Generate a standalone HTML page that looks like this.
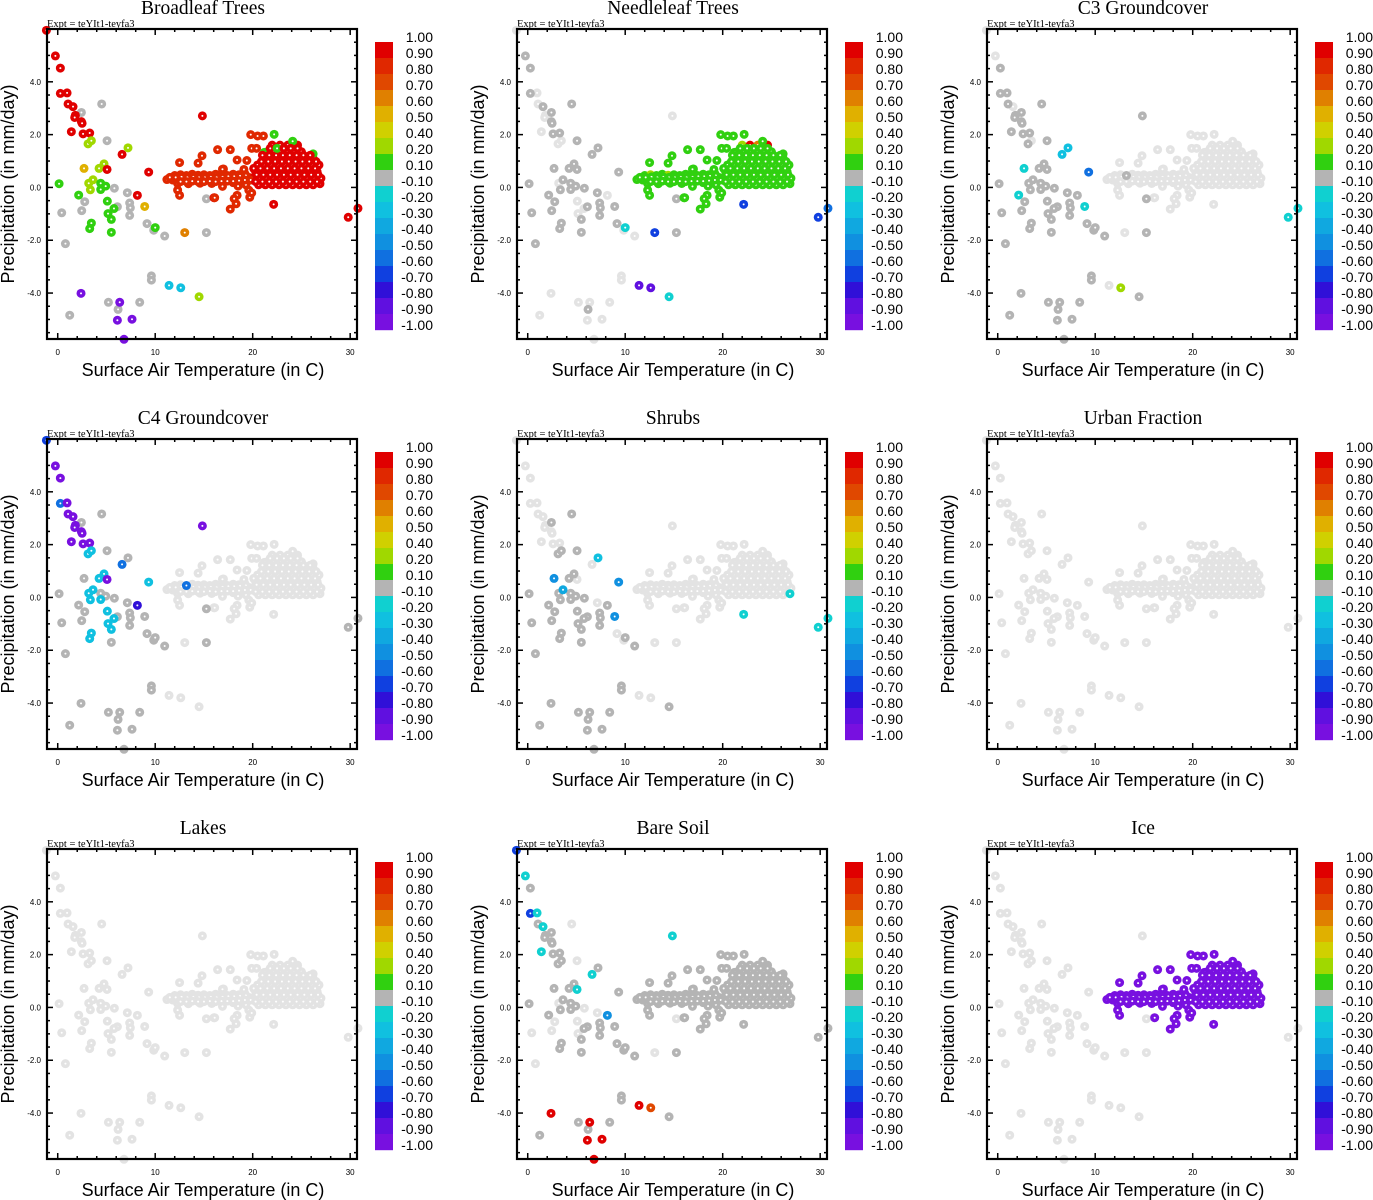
<!DOCTYPE html>
<html><head><meta charset="utf-8"><style>
html,body{margin:0;padding:0;background:#fff;}
svg{display:block;}
</style></head><body>
<svg id="chart" width="1373" height="1200" xmlns="http://www.w3.org/2000/svg"></svg>
<script>
// ---- data ----
const panelTitles = ["Broadleaf Trees","Needleleaf Trees","C3 Groundcover","C4 Groundcover","Shrubs","Urban Fraction","Lakes","Bare Soil","Ice"];
const xTicks = [0,10,20,30];
const yTicks = [4,2,0,-2,-4];
const yTickLabels = ["4.0","2.0","0.0","-2.0","-4.0"];
const cbarLabels = ["1.00","0.90","0.80","0.70","0.60","0.50","0.40","0.20","0.10","-0.10","-0.20","-0.30","-0.40","-0.50","-0.60","-0.70","-0.80","-0.90","-1.00"];
const cbarColors = ["#e00000","#e02800","#e04800","#e08000","#e0b000","#d0d000","#a0d800","#30d010","#b4b4b4","#10d0d0","#10c0e0","#10a8e0","#1090e0","#1070e0","#1040e0","#3010d8","#6010e0","#7810e0"];
const codeLetters = "ABCDEFGHIJKLMNOPQR";
const codeValues = [0.95,0.85,0.75,0.65,0.55,0.45,0.3,0.15,0,-0.15,-0.25,-0.35,-0.45,-0.55,-0.65,-0.75,-0.85,-0.95];

// scattered (cold/wet) points
const tempA = [-1.16,-0.24,0.27,0.27,0.96,1.06,1.57,1.81,1.74,2.43,2.43,2.5,4.51,1.4,2.6,3.28,3.11,3.45,5.06,7.21,6.6,2.7,4.24,4.75,5.06,0.14,3.18,3.62,4.41,4.92,3.35,4.41,5.81,2.15,7.14,8.17,9.33,2.77,5.09,7.38,6.12,7.45,8.92,0.41,2.46,5.77,5.16,5.5,7.38,3.45,3.28,5.5,9.16,9.85,10.0,10.97,13.03,15.25,0.79,9.61,9.61,11.42,12.62,14.5,2.39,5.2,6.36,8.41,6.19,1.23,6.12,7.62,6.8,14.84,15.25,16.03,29.8,30.8];
const precA = [5.95,4.98,4.52,3.56,3.58,3.16,3.06,2.73,2.65,2.84,2.49,2.43,3.16,2.11,2.03,2.06,1.65,1.77,1.77,1.5,1.25,0.72,0.72,0.89,0.68,0.14,0.16,0.29,0.16,0.05,-0.09,-0.08,-0.03,-0.29,-0.2,-0.3,0.58,-0.54,-0.52,-0.59,-0.73,-0.77,-0.72,-0.96,-0.88,-0.8,-0.99,-1.21,-1.06,-1.35,-1.56,-1.7,-1.37,-1.62,-1.52,-1.84,-1.71,-1.71,-2.13,-3.35,-3.51,-3.71,-3.8,-4.14,-4.01,-4.35,-4.35,-4.35,-4.62,-4.84,-5.03,-4.99,-5.75,2.71,-0.43,-0.39,-1.13,-0.79];
// warm cluster points
const tempB = [11.2,11.8,12.4,13,13.6,14.2,14.8,15.4,16,16.6,17.2,17.8,18.4,19,19.6,
 12,12.6,13.2,13.8,14.4,15,15.6,16.2,16.8,17.4,18,18.6,19.2,
 12.3,13.4,14.6,15.8,16.9,18,19.2,
 12.3,12.5,17.0,18.5,19.3,19.6,18.4,
 20.6,21.3,22,22.7,23.4,24.1,24.8,25.5,26.2,
 20,20.7,21.4,22.1,22.8,23.5,24.2,24.9,25.6,26.3,27,
 20.3,21,21.7,22.4,23.1,23.8,24.5,25.2,25.9,26.6,
 20.5,21.2,21.9,22.6,23.3,24,24.7,25.4,26.1,26.8,
 21.3,22,22.7,23.4,24.1,24.8,25.5,26.2,
 21.5,22.2,22.9,23.6,24.3,25,
 22,22.8,23.6,24.6,
 12.5,14.4,14.8,16.4,17.7,18.4,19.8,20.5,21.1,22.2,24.1,19.9,20.4,19.4,19.1,16.9,16.1,16.9,18.1,18.3,17.7,19.7,19.9,26.9,26.2,21.2,22.15,
 11.5,12.1,12.7,13.3,13.9,14.5,15.1,15.7,16.3,16.9,17.5,18.1,18.7,19.3,
 12.6,13.2,13.8,14.4,15,15.6,16.2,16.8,17.4,18,18.6,19.2,19.8,
 20.3,21,21.7,22.4,23.1,23.8,24.5,25.2,25.9,26.6,
 20.4,21.1,21.8,22.5,23.2,23.9,24.6,25.3,26,26.7,
 20.1,20.8,21.5,22.2,22.9,23.6,24.3,25,25.7,26.4,
 20.9,21.6,22.3,23,23.7,24.4,25.1,25.8,26.5,
 21,21.7,22.4,23.1,23.8,24.5,25.2,25.9,
 21.8,22.5,23.2,23.9,24.6];
const precB = [0.3,0.28,0.32,0.3,0.33,0.3,0.28,0.32,0.3,0.3,0.32,0.35,0.33,0.36,0.38,
 0.45,0.48,0.45,0.5,0.46,0.48,0.45,0.5,0.47,0.45,0.5,0.48,0.52,
 0.15,0.14,0.16,0.15,0.14,0.18,0.2,
 -0.1,-0.3,0.7,0.05,0.1,-0.1,-0.3,
 0.1,0.1,0.1,0.1,0.1,0.1,0.1,0.1,0.1,
 0.35,0.35,0.35,0.35,0.35,0.35,0.35,0.35,0.35,0.35,0.35,
 0.6,0.6,0.6,0.6,0.6,0.6,0.6,0.6,0.6,0.6,
 0.85,0.85,0.85,0.85,0.85,0.85,0.85,0.85,0.85,0.85,
 1.1,1.1,1.1,1.1,1.1,1.1,1.1,1.1,
 1.35,1.35,1.35,1.35,1.35,1.35,
 1.6,1.6,1.6,1.6,
 0.94,0.92,1.2,1.43,1.43,1.04,2.0,1.95,1.95,2.01,1.75,1.48,1.48,1.02,0.68,0.69,-0.39,0.04,-0.43,-0.62,-0.82,-0.37,-0.21,0.14,1.27,1.33,-0.64,
 0.38,0.38,0.4,0.38,0.4,0.38,0.38,0.4,0.38,0.4,0.42,0.42,0.44,0.45,
 0.22,0.22,0.24,0.22,0.22,0.24,0.22,0.24,0.24,0.24,0.26,0.28,0.28,
 0.22,0.22,0.22,0.22,0.22,0.22,0.22,0.22,0.22,0.22,
 0.48,0.48,0.48,0.48,0.48,0.48,0.48,0.48,0.48,0.48,
 0.72,0.72,0.72,0.72,0.72,0.72,0.72,0.72,0.72,0.72,
 0.98,0.98,0.98,0.98,0.98,0.98,0.98,0.98,0.98,
 1.22,1.22,1.22,1.22,1.22,1.22,1.22,1.22,
 1.48,1.48,1.48,1.48,1.48];

// per-panel value codes (letter = colour-bar class, '.' = no data)
const codesA = [
 ["AAAAAAAAAI","AAIAAAGGIG","AEGGAHGGHH","GHIHIAAIHI","IIEIIHHHIH","HHIIHIDIII","IKKGRIRIII","RRRAIAAA"],
 [".III..I..I","III.II..II","IIIIII.III","IIIII.II.I","IIIII..III","III.J.OII.",".QQJ....I.","....IHON"],
 ["..IIII.III","IIIIIII.IK","KJIIIIIIII","IIIJIINIII","IIJIIIIIII","IIIIII.III","I.GIIIIIII","IIIII.JJ"],
 ["ORRNRRRRRI","RRIRRRKKII","NIKKRIKKII","KKIIIPKIKI","IIIIIKKKIK","KIIIII.III","I...IIIIII","IIIRI.II"],
 [".........I","..I...IIIK",".MII.IILII","IIII.IMIII","IIMIIIIIII","II..II..II","I..IIIIIII","III...JJ"],
 null, null,
 ["OJIOJIJIII","II.JIIII.I","JIIIJI.III","II.I.MI..I","III..I.III","IIIIII.I.I","IACIAIAIII","AAAJ.III"],
 null
];
const codesB = [
 ["BBBBBBBBBB","BBBBBBBBBB","BBBBBBBBBB","BBBBBBBBBB","BB","AAAAAAAAAA","AAAAAAAAAA","AAAAAAAAAA","AAAAAAAAAA","AAAAAAAAAA","AAAAAAAA","BBBBBBBBBHH","BBBBBBBBBBBB","AHHA",
  "BBBBBBBBBBBBBB","BBBBBBBBBBBBB","AAAAAAAAAA","AAAAAAAAAA","AAAAAAAAAA","AAAAAAAAA","AAAAAAAA","AHAAA"],
 ["HHHHHHHHHHHHHHH","HGHHGHHHHHHHH","HHHHHHH","HHHHHHH","HHHHHHHHHHHHHHHHHHHHHHHHHHHHHHHHHHHHHHHHHHHHHHHHHHHHHH","GADA","HHHHHHHHHHHHHHHHHHHHHHHHHHO",
  "HHHHHHHHHHHHHH","HHHHHHHHHHHHH","HHHHHHHHHH","HHHHHHHHHH","HHHHHHHHHH","HHHHHHHHH","HHHHHHHH","HHHHH"],
 ["...............","..I..........",".......",".......","......................................................","....","..........................."],
 ["...............","..N..........",".......",".......","......................................................","....","..........................."],
 ["...............",".............",".......",".......","......................................................","....",".......................J..J"],
 null, null,
 ["IIIIIIIIIIIIIII","IIIIIIIIIIIII","IIIIIII","IIIIIII","IIIIIIIIIIIIIIIIIIIIIIIIIIIIIIIIIIIIIIIIIIIIIIIIIIIIII","IIII","IIIIIIIIIIIIIIIIIIIIIIIIIII",
  "IIIIIIIIIIIIII","IIIIIIIIIIIII","IIIIIIIIII","IIIIIIIIII","IIIIIIIIII","IIIIIIIII","IIIIIIII","IIIII"],
 ["RRRRRRRRRRRRRRR","RRRRRRRRRRRRR","RRRRRRR","RRRRRRR","RRRRRRRRRRRRRRRRRRRRRRRRRRRRRRRRRRRRRRRRRRRRRRRRRRRRRR","RRRR","RRRRRRRRRRRRRRRRRRRRRRRRRRR",
  "RRRRRRRRRRRRRR","RRRRRRRRRRRRR","RRRRRRRRRR","RRRRRRRRRR","RRRRRRRRRR","RRRRRRRRR","RRRRRRRR","RRRRR"]
];

// ---- layout ----
const NS = "http://www.w3.org/2000/svg";
const svg = document.getElementById("chart");
const PX0 = 47, PX1 = 357, PY0 = 29, PY1 = 339;
const xMin = -1.1, xMax = 30.7, yMin = -5.74, yMax = 6.0;
function xs(t){ return PX0 + (t - xMin) / (xMax - xMin) * (PX1 - PX0); }
function ys(p){ return PY1 - (p - yMin) / (yMax - yMin) * (PY1 - PY0); }
function mk(tag, attrs, parent){
  const e = document.createElementNS(NS, tag);
  for (const k in attrs) e.setAttribute(k, attrs[k]);
  parent.appendChild(e);
  return e;
}
function colorFor(code){
  if (code === "." || code === undefined) return null;
  const i = codeLetters.indexOf(code);
  const v = codeValues[i];
  let idx;
  if (v > 0.4) idx = Math.max(0, Math.floor((1 - v) / 0.1 + 1e-9));
  else if (v > 0.2) idx = 6;
  else if (v > 0.1) idx = 7;
  else if (v >= -0.1) idx = 8;
  else idx = Math.min(17, 9 + Math.floor((-0.1 - v) / 0.1 + 1e-9));
  return cbarColors[idx];
}

for (let p = 0; p < 9; p++) {
  const ox = (p % 3) * 470, oy = Math.floor(p / 3) * 410;
  const g = mk("g", {transform: `translate(${ox},${oy})`}, svg);
  
  

  const title = mk("text", {x: 203, y: 14, "text-anchor": "middle", "font-family": "Liberation Serif, serif", "font-size": 19.5}, g);
  title.textContent = panelTitles[p];
  
  

  const ex = mk("text", {x: 47, y: 27, "font-family": "Liberation Serif, serif", "font-size": 10.5}, g);
  ex.textContent = "Expt = teYIt1-teyfa3";
  
  

  const tk = mk("g", {stroke: "#000", "stroke-width": 1.5}, g);
  
  
  for (let t = 0; t <= 30; t += 2) {
    const x = xs(t), L = (t % 10 === 0) ? 6 : 3;
    mk("line", {x1: x, x2: x, y1: PY1, y2: PY1 - L}, tk);
    mk("line", {x1: x, x2: x, y1: PY0, y2: PY0 + L}, tk);
  }
  for (let v = -5.5; v <= 6; v += 0.5) {
    const y = ys(v), L = (Math.abs(v % 2) < 1e-6) ? 6 : 3;
    mk("line", {x1: PX0, x2: PX0 + L, y1: y, y2: y}, tk);
    mk("line", {x1: PX1, x2: PX1 - L, y1: y, y2: y}, tk);
  }
  xTicks.forEach(t => {
    const tl = mk("text", {x: xs(t), y: 355, "text-anchor": "middle", "font-family": "Liberation Sans, sans-serif", "font-size": 8}, g);
    tl.textContent = String(t);
    
    
  });
  yTicks.forEach((v, i) => {
    const tl = mk("text", {x: 41, y: ys(v) + 3, "text-anchor": "end", "font-family": "Liberation Sans, sans-serif", "font-size": 8}, g);
    tl.textContent = yTickLabels[i];
    
    
  });
  const xt = mk("text", {x: 203, y: 376, "text-anchor": "middle", "font-family": "Liberation Sans, sans-serif", "font-size": 18}, g);
  xt.textContent = "Surface Air Temperature (in C)";
  
  
  const yt = mk("text", {x: 0, y: 0, "text-anchor": "middle", "font-family": "Liberation Sans, sans-serif", "font-size": 18, transform: "translate(14,184) rotate(-90)"}, g);
  yt.textContent = "Precipitation (in mm/day)";
  
  

  const sA = codesA[p] ? codesA[p].join("") : "";
  const sB = codesB[p] ? codesB[p].join("") : "";
  const pts = [];
  tempA.forEach((t, i) => pts.push([t, precA[i], sA[i] || "."]));
  tempB.forEach((t, i) => pts.push([t, precB[i], sB[i] || "."]));
  const layers = [".", "I", "col"];
  const pg = mk("g", {}, g);
  
  
  layers.forEach(layer => {
    pts.forEach(pt => {
      const c = pt[2];
      const isLayer = layer === "col" ? (c !== "." && c !== "I") : c === layer;
      if (!isLayer) return;
      const col = c === "." ? "#e3e3e3" : colorFor(c);
      const cx = xs(pt[0]), cy = ys(pt[1]);
      const dot = mk("circle", {cx: cx, cy: cy, r: 4.5, fill: col}, pg);
      
      
      mk("circle", {cx: cx, cy: cy, r: 1, fill: "#fff"}, pg);
    });
  });

  const fr = mk("rect", {x: PX0, y: PY0, width: PX1 - PX0, height: PY1 - PY0, fill: "none", stroke: "#000", "stroke-width": 2.2}, g);
  
  

  const cb = mk("g", {}, g);
  
  
  cbarColors.forEach((c, i) => {
    const r = mk("rect", {x: 375, y: 42 + 16 * i, width: 18, height: 16.2, fill: c}, cb);
    
    
  });
  cbarLabels.forEach((l, i) => {
    const t = mk("text", {x: 433, y: 42 + 16 * i, "text-anchor": "end", "font-family": "Liberation Sans, sans-serif", "font-size": 14}, cb);
    t.textContent = l;
    
    
  });
}
</script>
</body></html>
